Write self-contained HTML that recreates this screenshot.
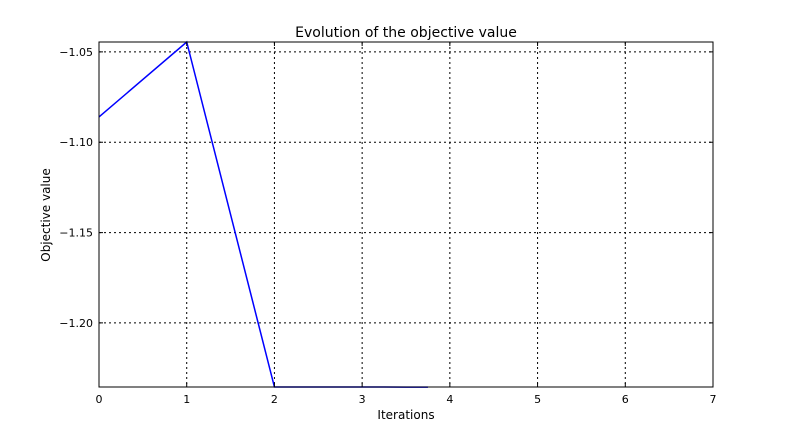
<!DOCTYPE html>
<html><head><meta charset="utf-8"><style>
body{margin:0;background:#fff;}
svg{display:block;font-family:"DejaVu Sans","Liberation Sans",sans-serif;}
</style></head><body>
<svg id="chart" width="792" height="432">
<rect x="0" y="0" width="792" height="432" fill="#fff"/>
<g id="grid"></g>
<g id="series"></g>
<rect x="99" y="42" width="614" height="345" fill="none" stroke="#000" stroke-width="1"/>
<g id="ticks"></g>
<text x="406" y="37" text-anchor="middle" font-size="14">Evolution of the objective value</text>
<text x="406" y="419" text-anchor="middle" font-size="12">Iterations</text>
<text x="50" y="215" text-anchor="middle" font-size="12" transform="rotate(-90 50 215)">Objective value</text>
</svg>
<script>
const iterations=[0,1,2,2.5,3,3.25,3.5,3.75];
const objective=[-1.086,-1.0445,-1.2355,-1.2355,-1.2355,-1.2355,-1.2356,-1.2356];
const xTicks=[0,1,2,3,4,5,6,7];
const yTicks=[-1.05,-1.10,-1.15,-1.20];
const yTickLabels=["\u22121.05","\u22121.10","\u22121.15","\u22121.20"];
const X0=99,X1=713,Y0=42,Y1=387;
const xMin=0,xMax=7,yMin=-1.2355,yMax=-1.0445;
function sx(v){return X0+(v-xMin)/(xMax-xMin)*(X1-X0);}
function sy(v){return Y1-(v-yMin)/(yMax-yMin)*(Y1-Y0);}
const NS="http://www.w3.org/2000/svg";
const grid=document.getElementById('grid'),ticks=document.getElementById('ticks'),series=document.getElementById('series');
function mk(tag,attrs,parent){const e=document.createElementNS(NS,tag);for(const k in attrs)e.setAttribute(k,attrs[k]);parent.appendChild(e);return e;}
xTicks.forEach(t=>{
  const x=sx(t);
  const g=mk('line',{x1:x,x2:x,y1:Y0,y2:Y1,stroke:'#000','stroke-dasharray':'2,3','stroke-width':1},grid);
  
  
  const tk=mk('path',{d:`M${x},${Y1}v-4M${x},${Y0}v4`,stroke:'#000','stroke-width':1},ticks);
  
  
  const l=mk('text',{x:x,y:Y1+16,'text-anchor':'middle','font-size':11},ticks);
  l.textContent=t;
  
  
});
yTicks.forEach((t,i)=>{
  const y=sy(t);
  const g=mk('line',{x1:X0,x2:X1,y1:y,y2:y,stroke:'#000','stroke-dasharray':'2,3','stroke-width':1},grid);
  
  
  const tk=mk('path',{d:`M${X0},${y}h4M${X1},${y}h-4`,stroke:'#000','stroke-width':1},ticks);
  
  
  const l=mk('text',{x:X0-6,y:y+4,'text-anchor':'end','font-size':11},ticks);
  l.textContent=yTickLabels[i];
  
  
});
const pts=iterations.map((v,i)=>sx(v)+','+sy(objective[i])).join(' ');
const line=mk('polyline',{points:pts,fill:'none',stroke:'#0000ff','stroke-width':1.5},series);


</script>
</body></html>
